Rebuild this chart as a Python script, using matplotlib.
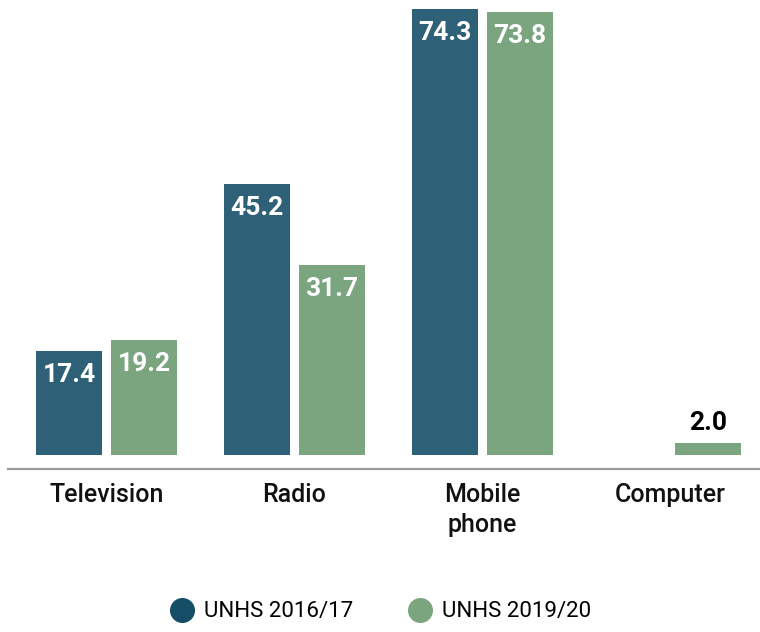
import matplotlib
matplotlib.use("Agg")
from matplotlib import pyplot as plt
from matplotlib.lines import Line2D
import numpy as np

categories = ['Television', 'Radio', 'Mobile\nphone', 'Computer']
unhs_2016 = [17.4, 45.2, 74.3, None]
unhs_2019 = [19.2, 31.7, 73.8, 2.0]
series_names = ['UNHS 2016/17', 'UNHS 2019/20']

blue = '#2e6178'
green = '#7aa57f'
legend_blue = '#154d67'

plt.rcParams['font.family'] = ['Roboto', 'DejaVu Sans']

fig = plt.figure(figsize=(7.6, 6.32), dpi=100)
# axes spans full width; bottom at pixel 480, top at pixel 0
ax = fig.add_axes([0, (632 - 480) / 632, 1, 480 / 632])

x = np.arange(len(categories))
w = 66 / 188
off = 37.5 / 188

for xi, v in zip(x, unhs_2016):
    if v is None:
        continue
    ax.bar(xi - off, v, width=w, color=blue)
    ax.text(xi - off, v - 4.0, f'{v:.1f}', ha='center', va='center',
            color='white', fontsize=19, fontweight='bold')

for xi, v in zip(x, unhs_2019):
    ax.bar(xi + off, v, width=w, color=green)
    if v < 10:
        ax.text(xi + off, v + 3.3, f'{v:.1f}', ha='center', va='center',
                color='black', fontsize=19, fontweight='bold')
    else:
        ax.text(xi + off, v - 4.0, f'{v:.1f}', ha='center', va='center',
                color='white', fontsize=19, fontweight='bold')

ax.set_xlim(-106.5 / 188, (760 - 106.5) / 188)
ax.set_ylim(-25 / 6, 455 / 6)
ax.plot([(8 - 106.5) / 188, (760 - 106.5) / 188], [-14 / 6, -14 / 6],
        color='#9a9a9a', lw=1.6, clip_on=False)
ax.axis('off')

for xi, lab in zip(x, categories):
    ax.text(xi, -4.6, lab, ha='center', va='top', fontsize=18,
            fontweight='medium', color='#111111', linespacing=1.32)

handles = [Line2D([], [], marker='o', ls='', markersize=17, color=legend_blue),
           Line2D([], [], marker='o', ls='', markersize=17, color=green)]
fig.legend(handles, series_names, loc='center', bbox_to_anchor=(0.5, 20 / 632),
           ncol=2, frameon=False, fontsize=16, handletextpad=0.4,
           columnspacing=2.4, handlelength=1.2)

fig.savefig('out.png', dpi=100)
